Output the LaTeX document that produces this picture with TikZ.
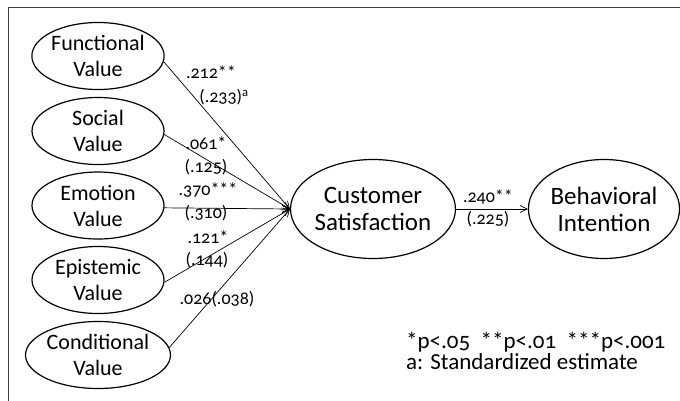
\documentclass[tikz,border=0pt]{standalone}
\usepackage{fontspec}
\setmainfont{Carlito}[Numbers=OldStyle]
\usetikzlibrary{shapes.geometric,arrows.meta}
\tikzset{
  lat/.style={ellipse,draw,line width=1.2pt,minimum width=132pt,minimum height=67pt,inner sep=0pt,align=center,font=\fontsize{22}{26}\selectfont},
  big/.style={ellipse,draw,line width=1.2pt,minimum width=140pt,minimum height=99pt,inner sep=0pt,align=center,font=\fontsize{25}{27}\selectfont},
  arr/.style={-{Straight Barb[length=7pt,width=7pt]},line width=0.7pt},
  lab/.style={inner sep=0pt,font=\fontsize{18}{18}\selectfont},
  leg/.style={inner sep=0pt,anchor=base west,font=\fontsize{23}{20}\selectfont}
}
\begin{document}
\begin{tikzpicture}[x=1pt,y=-1pt]
\useasboundingbox (0,0) rectangle (680,400);
\clip (0,0) rectangle (680,400);
\draw[line width=1.8pt,black!75] (8.5,7.5) rectangle (720,440);
\node[lat] (fv) at (98,56) {Functional\\Value};
\node[lat] (sv) at (98,131) {Social\\Value};
\node[lat] (ev) at (98,205.5) {Emotion\\Value};
\node[lat] (epv) at (98,280) {Epistemic\\Value};
\node[lat] (cv) at (98,355) {Conditional\\Value};
\node[big] (cs) at (373,209) {Customer\\Satisfaction};
\node[big] (bi) at (604,209) {Behavioral\\Intention};
\draw[arr] (fv.-5) -- (cs.west);
\draw[arr] (sv.-3) -- (cs.west);
\draw[arr] (ev.-2) -- (cs.west);
\draw[arr] (epv.-2) -- (cs.west);
\draw[arr] (cv.6) -- (cs.west);
\draw[arr] (cs.east) -- (bi.west);
\node[lab] (l1) at (211,72) {.212**};
\node[lab] (l1b) at (224,97) {(.233)\textsuperscript{a}};
\node[lab] (l2) at (206,143) {.061*};
\node[lab] (l2b) at (206,167) {(.125)};
\node[lab] (l3) at (208,190) {.370***};
\node[lab] (l3b) at (206,213) {(.310)};
\node[lab] (l4) at (208,237) {.121*};
\node[lab] (l4b) at (207,260) {(.144)};
\node[lab] (l5) at (217,299) {.026(.038)};
\node[lab] (l6) at (488,197) {.240**};
\node[lab] (l6b) at (488,219) {(.225)};
\node[leg] (g1) at (406,348) {*p<.05\ \ **p<.01\ \ ***p<.001};
\node[leg] (g2) at (406,369) {a: Standardized estimate};
\end{tikzpicture}
\end{document}
